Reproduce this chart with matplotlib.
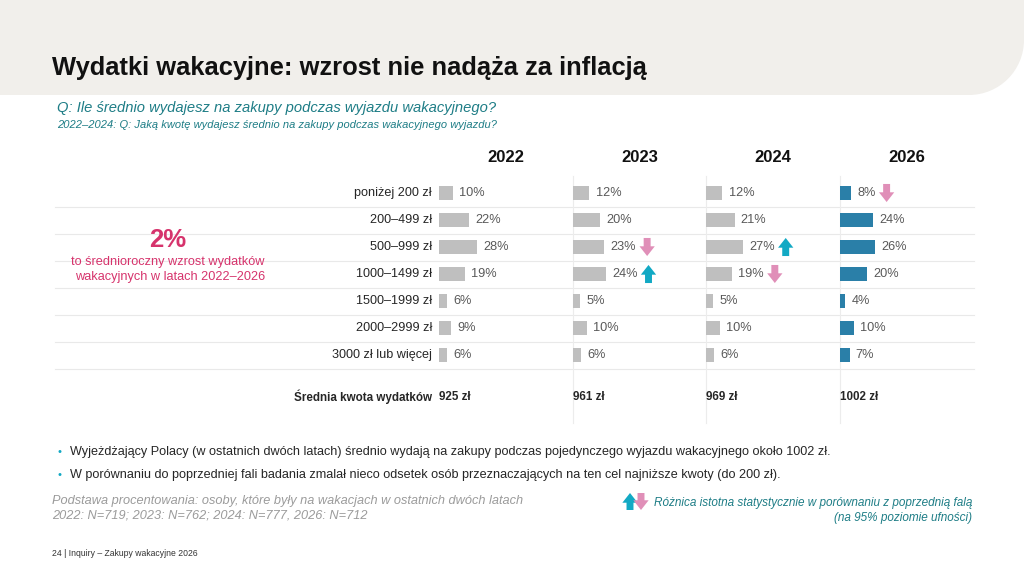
import matplotlib
matplotlib.use('Agg')
import matplotlib.pyplot as plt
from matplotlib.patches import Rectangle, Circle
from matplotlib.text import OffsetFrom

plt.rcParams['font.family'] = ['Liberation Sans', 'DejaVu Sans']

## DATA
categories = ['poniżej 200 zł', '200–499 zł', '500–999 zł', '1000–1499 zł',
              '1500–1999 zł', '2000–2999 zł', '3000 zł lub więcej']
years = ['2022', '2023', '2024', '2026']
v2022 = [10, 22, 28, 19, 6, 9, 6]
v2023 = [12, 20, 23, 24, 5, 10, 6]
v2024 = [12, 21, 27, 19, 5, 10, 6]
v2026 = [8, 24, 26, 20, 4, 10, 7]
means = ['925 zł', '961 zł', '969 zł', '1002 zł']
# significance vs previous wave: +1 up, -1 down, 0 none
sig2022 = [0, 0, 0, 0, 0, 0, 0]
sig2023 = [0, 0, -1, 1, 0, 0, 0]
sig2024 = [0, 0, 1, -1, 0, 0, 0]
sig2026 = [-1, 0, 0, 0, 0, 0, 0]

series = [v2022, v2023, v2024, v2026]
sigs = [sig2022, sig2023, sig2024, sig2026]

GREY = '#bfbfbf'
BLUE = '#2a7fa8'
TEAL = '#1e7d86'
UP = '#12a9c4'
DOWN = '#e08fb8'
PINK = '#d6336c'
TXT = '#262626'
VAL = '#595959'
ARROW = 'simple,head_length=0.7,head_width=1.1,tail_width=0.5'

W, H = 1024, 576
fig = plt.figure(figsize=(W / 100, H / 100), dpi=100)
ax = fig.add_axes([0, 0, 1, 1])
ax.set_xlim(0, W)
ax.set_ylim(H, 0)
ax.axis('off')

# header band with rounded bottom-right corner
band_h, r = 95, 55
ax.add_patch(Rectangle((0, 0), W - r, band_h, color='#f1efeb', lw=0))
ax.add_patch(Rectangle((0, 0), W, band_h - r, color='#f1efeb', lw=0))
ax.add_patch(Circle((W - r, band_h - r), r, color='#f1efeb', lw=0))

ax.text(52, 68, 'Wydatki wakacyjne: wzrost nie nadąża za inflacją', fontsize=18.4,
        fontweight='bold', color='#111111', va='center', ha='left')
ax.text(57, 108, 'Q: Ile średnio wydajesz na zakupy podczas wyjazdu wakacyjnego?',
        fontsize=10.6, style='italic', color=TEAL, va='center')
ax.text(57, 125, '2022–2024: Q: Jaką kwotę wydajesz średnio na zakupy podczas wakacyjnego wyjazdu?',
        fontsize=8, style='italic', color=TEAL, va='center')

# grid lines
row_h = 27
top = 179.5
for i in range(len(categories)):
    y = top + (i + 1) * row_h
    ax.plot([55, 974], [y, y], color='#e9e9e9', lw=0.8)
col_x = [439, 573, 706, 840]
col_w = 134
for x in col_x[1:]:
    ax.plot([x - 0.5, x - 0.5], [176, 423], color='#ececec', lw=0.8)

# row labels
for i, c in enumerate(categories):
    ax.text(432, top + (i + 0.5) * row_h, c, fontsize=9.1, color=TXT, ha='right', va='center')

ax.text(432, 397, 'Średnia kwota wydatków', fontsize=8.4, fontweight='bold', color=TXT,
        ha='right', va='center')

# callout
ax.text(168, 247, '2%', fontsize=18.5, fontweight='bold', color=PINK, ha='center', va='baseline')
ax.text(168, 265.5, 'to średnioroczny wzrost wydatków', fontsize=9.2, color=PINK,
        ha='center', va='baseline')
ax.text(170, 280, 'wakacyjnych w latach 2022–2026', fontsize=9.2, color=PINK,
        ha='center', va='baseline')

# bar columns
px_per_pct = 1.36
for k, (yr, vals, sg) in enumerate(zip(years, series, sigs)):
    bax = fig.add_axes([col_x[k] / W, 1 - (top + 7 * row_h) / H, col_w / W, 7 * row_h / H])
    bax.set_xlim(0, col_w / px_per_pct)
    bax.set_ylim(len(categories) - 0.5, -0.5)
    bax.axis('off')
    color = BLUE if yr == '2026' else GREY
    bax.barh(range(len(vals)), vals, height=0.52, color=color, left=0)
    for i, v in enumerate(vals):
        t = bax.annotate(f'{v}%', xy=(v, i), xytext=(4.5, 0), textcoords='offset points',
                         fontsize=9.2, color=VAL, va='center', ha='left')
        if sg[i] != 0:
            off = OffsetFrom(t, (1, 0.5), unit='points')
            y0, y1 = (6.5, -6.5) if sg[i] < 0 else (-6.5, 6.5)
            bax.annotate('', xy=(8, y1), xycoords=off, xytext=(8, y0), textcoords=off,
                         arrowprops=dict(arrowstyle=ARROW, color=DOWN if sg[i] < 0 else UP,
                                         shrinkA=0, shrinkB=0, mutation_scale=10, lw=0))
    ax.text(col_x[k] + 67, 158, yr, fontsize=12, fontweight='bold', color='#111111',
            ha='center', va='center')
    ax.text(col_x[k], 397, means[k], fontsize=8.4, fontweight='bold', color=TXT,
            ha='left', va='center')

# bullets
bullets = ['Wyjeżdżający Polacy (w ostatnich dwóch latach) średnio wydają na zakupy podczas pojedynczego wyjazdu wakacyjnego około 1002 zł.',
           'W porównaniu do poprzedniej fali badania zmalał nieco odsetek osób przeznaczających na ten cel najniższe kwoty (do 200 zł).']
for j, b in enumerate(bullets):
    y = 452 + j * 23
    ax.text(58, y, '•', fontsize=8, color=UP, va='center')
    ax.text(70, y, b, fontsize=9.1, color=TXT, va='center')

ax.text(52, 508.5, 'Podstawa procentowania: osoby, które były na wakacjach w ostatnich dwóch latach\n'
        '2022: N=719; 2023: N=762; 2024: N=777, 2026: N=712',
        fontsize=9.2, style='italic', color='#9b9b9b', va='center', linespacing=1.3)
ax.text(972, 510.5, 'Różnica istotna statystycznie w porównaniu z poprzednią falą\n(na 95% poziomie ufności)',
        fontsize=8.5, style='italic', color=TEAL, va='center', ha='right', linespacing=1.35)
ax.annotate('', xy=(630, 493), xytext=(630, 510),
            arrowprops=dict(arrowstyle=ARROW, color=UP, shrinkA=0, shrinkB=0, mutation_scale=10, lw=0))
ax.annotate('', xy=(641, 510), xytext=(641, 493),
            arrowprops=dict(arrowstyle=ARROW, color=DOWN, shrinkA=0, shrinkB=0, mutation_scale=10, lw=0))

ax.text(52, 553, '24 | Inquiry – Zakupy wakacyjne 2026', fontsize=6.2, color='#333333', va='center')

fig.savefig('out.png', dpi=100)
